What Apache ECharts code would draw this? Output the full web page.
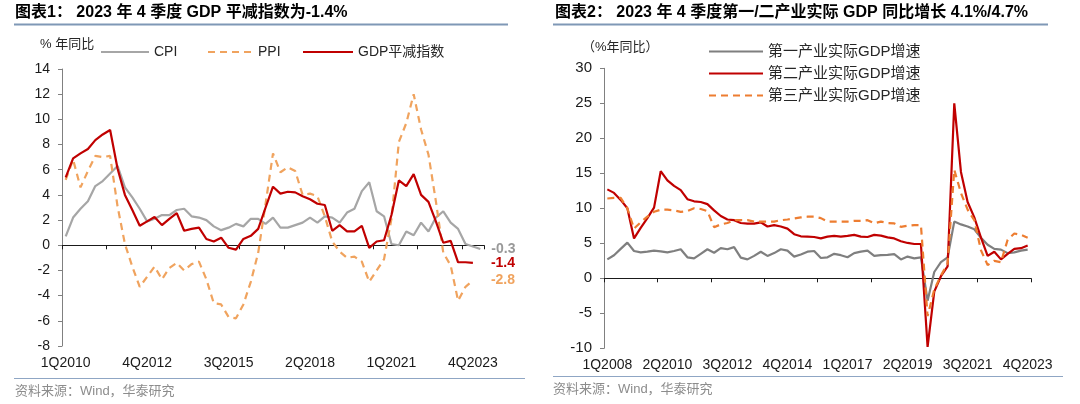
<!DOCTYPE html>
<html><head><meta charset="utf-8">
<script src="https://cdn.jsdelivr.net/npm/echarts@6.0.0/dist/echarts.min.js"></script>
<style>html,body{margin:0;padding:0;background:#fff}#c{width:1080px;height:404px}</style>
</head><body><div id="c"></div>
<script>
// ---------- data ----------
function quarters(startYear, count){var o=[];for(var k=0;k<count;k++){o.push(((k%4)+1)+'Q'+(startYear+Math.floor(k/4)));}return o;}
// left chart: 1Q2010 .. 1Q2024
var catsLeft = quarters(2010, 57);
var cpi = [0.7,2.2,2.9,3.5,4.7,5.1,5.7,6.3,4.6,3.8,2.9,1.9,2.1,2.4,2.4,2.8,2.9,2.3,2.2,2.0,1.5,1.2,1.4,1.7,1.5,2.1,2.1,1.7,2.2,1.4,1.4,1.6,1.8,2.2,1.8,2.3,2.2,1.8,2.6,2.9,4.3,5.0,2.7,2.3,0.1,0.0,1.1,0.8,1.8,1.1,2.2,2.7,1.8,1.3,0.1,-0.1,-0.3];
var ppi = [5.2,6.8,4.6,5.9,7.1,7.0,7.1,3.1,0.1,-1.7,-3.3,-2.5,-1.7,-2.7,-1.8,-1.4,-2.0,-1.5,-1.3,-2.7,-4.6,-4.7,-5.7,-5.8,-4.7,-2.9,-0.6,3.3,7.3,5.8,6.2,5.9,4.0,4.1,3.9,2.3,0.3,-0.5,-1.0,-0.9,-1.3,-2.9,-2.0,-1.1,2.1,8.2,9.7,12.0,9.2,7.2,3.5,-0.6,-1.6,-4.4,-3.3,-2.8];
var gdpDeflator = [5.4,6.9,7.3,7.65,8.35,8.8,9.15,6.1,4.0,2.8,1.55,1.9,2.25,1.6,2.1,2.55,1.15,1.3,1.4,0.5,0.3,0.6,-0.2,-0.35,0.5,0.75,1.3,3.0,4.65,4.1,4.25,4.2,3.9,3.65,3.3,3.2,1.15,1.6,1.1,1.1,1.55,-0.2,0.3,0.4,2.4,5.15,4.7,5.65,4.0,3.45,1.9,0.2,0.35,-1.35,-1.35,-1.4];
// right chart: 1Q2008 .. 4Q2023
var catsRight = quarters(2008, 64);
var primary = [2.7,3.3,4.2,5.1,3.9,3.7,3.8,3.95,3.85,3.7,3.9,4.15,3.0,2.85,3.5,4.15,3.65,4.3,4.15,4.45,2.95,2.7,3.2,3.8,3.2,3.6,4.15,3.95,3.1,3.4,3.8,3.9,2.9,3.0,3.5,3.3,3.0,3.6,3.8,3.95,3.2,3.3,3.35,3.45,2.7,3.1,2.85,3.0,-3.2,0.9,2.3,3.0,8.1,7.7,7.4,7.0,5.8,4.8,4.2,4.1,3.6,3.7,3.95,4.1];
var secondary = [12.7,12.2,11.2,10.0,5.7,7.2,8.6,10.1,15.3,14.0,13.2,12.6,11.3,11.0,10.9,10.6,9.7,8.9,8.4,8.3,7.9,7.8,7.8,8.0,7.4,7.6,7.4,7.1,6.3,6.0,5.95,5.9,5.7,5.95,6.05,5.95,6.05,6.2,5.95,5.9,6.2,6.1,5.85,5.7,5.3,5.05,4.9,4.9,-9.8,-1.9,0.3,1.7,25.0,15.2,10.9,8.7,5.8,3.2,3.8,2.7,3.5,4.2,4.3,4.7];
var tertiary = [11.4,11.5,11.5,10.0,7.1,8.0,8.8,9.5,9.8,9.8,9.7,9.5,9.6,10.0,9.9,9.6,7.3,7.7,7.9,8.3,8.3,8.3,8.1,8.1,8.1,8.1,8.3,8.4,8.55,8.7,8.8,8.8,8.6,8.1,8.1,8.1,8.1,8.2,8.2,8.3,7.85,8.1,7.9,7.85,7.35,7.5,7.6,7.6,-5.4,-1.6,0.4,2.1,15.5,12.2,9.8,8.3,4.0,1.9,2.5,2.3,5.5,6.4,6.2,5.8];

var FONT = "'Liberation Sans', Arial, 'Noto Sans CJK SC', sans-serif";
var chart = echarts.init(document.getElementById('c'), null, {renderer:'canvas'});

function labelAxis(grid, cats, interval){
  return {type:'category', gridIndex:grid, data:cats, boundaryGap:true, position:'bottom',
    axisLine:{show:false,onZero:false}, axisTick:{show:false},
    axisLabel:{interval:interval, margin:10, color:'#1a1a1a', fontSize:14, fontFamily:FONT}};
}
function lineAxis(grid, cats, tickInterval){
  return {type:'category', gridIndex:grid, data:cats, boundaryGap:true, position:'bottom',
    axisLine:{show:true,onZero:true,lineStyle:{color:'#1a1a1a',width:1}},
    axisTick:{show:true,interval:tickInterval,inside:false,length:4,lineStyle:{color:'#1a1a1a'}},
    axisLabel:{show:false}, splitLine:{show:false}};
}
function valAxis(grid, min, max, interval, fs){
  return {type:'value', gridIndex:grid, min:min, max:max, interval:interval,
    axisLine:{show:true,lineStyle:{color:'#808080',width:1}},
    axisTick:{show:true,length:4,lineStyle:{color:'#808080'}},
    axisLabel:{margin:12,color:'#1a1a1a',fontSize:fs,fontFamily:FONT},
    splitLine:{show:false}};
}
function lineSeries(name, data, xi, yi, color, dashed, width){
  return {name:name, type:'line', data:data, xAxisIndex:xi, yAxisIndex:yi, symbol:'none', showSymbol:false,
    lineStyle:{color:color, width:width, type: dashed ? [7,5] : 'solid'}, itemStyle:{color:color}};
}
function endLabel(color, dist){
  return {show:true, distance:dist, color:color, fontWeight:'bold', fontSize:14, fontFamily:FONT,
    formatter:function(p){return String(p.value);}};
}

var sCpi = lineSeries('CPI', cpi, 0, 0, '#a6a6a6', false, 2.2); sCpi.endLabel = endLabel('#999999', 11);
var sPpi = lineSeries('PPI', ppi, 0, 0, '#f0a35e', true, 2.2); sPpi.endLabel = endLabel('#f0a35e', 18);
var sGdp = lineSeries('GDP平减指数', gdpDeflator, 0, 0, '#c00000', false, 2.2); sGdp.endLabel = endLabel('#c00000', 18);

var legendText = {color:'#262626', fontSize:14, fontFamily:FONT};
var legendRText = {color:'#262626', fontSize:15, fontFamily:FONT};
var noSym = {opacity:0, borderWidth:0};

chart.setOption({
  animation:false,
  textStyle:{fontFamily:FONT},
  grid:[
    {left:62, top:69, width:422, height:277, containLabel:false, outerBoundsMode:'none'},
    {left:604, top:68.3, width:427, height:280, containLabel:false, outerBoundsMode:'none'}
  ],
  xAxis:[
    labelAxis(0, catsLeft, 10), lineAxis(0, catsLeft, 5),
    labelAxis(1, catsRight, 8), lineAxis(1, catsRight, 7)
  ],
  yAxis:[ valAxis(0, -8, 14, 2, 14), valAxis(1, -10, 30, 5, 15) ],
  legend:[
    {data:['CPI'], left:100, top:45, padding:0, itemWidth:48, itemHeight:12, itemStyle:noSym, textStyle:legendText},
    {data:['PPI'], left:207, top:45, padding:0, itemWidth:45, itemHeight:12, itemStyle:noSym, textStyle:legendText},
    {data:['GDP平减指数'], left:302, top:45, padding:0, itemWidth:50, itemHeight:12, itemStyle:noSym, textStyle:legendText},
    {data:['第一产业实际GDP增速','第二产业实际GDP增速','第三产业实际GDP增速'], orient:'vertical',
     left:708, top:44, padding:0, itemWidth:54, itemHeight:14, itemGap:7, itemStyle:noSym, textStyle:legendRText}
  ],
  series:[
    sCpi, sPpi, sGdp,
    lineSeries('第一产业实际GDP增速', primary, 2, 1, '#7f7f7f', false, 2.2),
    lineSeries('第二产业实际GDP增速', secondary, 2, 1, '#c00000', false, 2.2),
    lineSeries('第三产业实际GDP增速', tertiary, 2, 1, '#ed7d31', true, 2.2)
  ],
  graphic:[
    {type:'text', left:15, top:5, style:{text:'图表1： 2023 年 4 季度 GDP 平减指数为-1.4%', font:"bold 16px "+FONT, fill:'#000'}},
    {type:'line', shape:{x1:14,y1:24.5,x2:508,y2:24.5}, style:{stroke:'#7f98b6', lineWidth:2}},
    {type:'text', left:40, top:38, style:{text:'% 年同比', font:"13px "+FONT, fill:'#262626'}},
    {type:'line', shape:{x1:14,y1:378.5,x2:525,y2:378.5}, style:{stroke:'#8fa6c4', lineWidth:1}},
    {type:'text', left:15, top:385, style:{text:'资料来源：Wind，华泰研究', font:"13px "+FONT, fill:'#8c8c8c'}},

    {type:'text', left:555, top:5, style:{text:'图表2： 2023 年 4 季度第一/二产业实际 GDP 同比增长 4.1%/4.7%', font:"bold 16px "+FONT, fill:'#000'}},
    {type:'line', shape:{x1:553,y1:24.5,x2:1048,y2:24.5}, style:{stroke:'#7f98b6', lineWidth:2}},
    {type:'text', left:582, top:41, style:{text:'（%年同比）', font:"13px "+FONT, fill:'#262626'}},
    {type:'line', shape:{x1:553,y1:376.5,x2:1063,y2:376.5}, style:{stroke:'#8fa6c4', lineWidth:1}},
    {type:'text', left:553, top:383, style:{text:'资料来源：Wind，华泰研究', font:"13px "+FONT, fill:'#8c8c8c'}}
  ]
});
</script></body></html>
